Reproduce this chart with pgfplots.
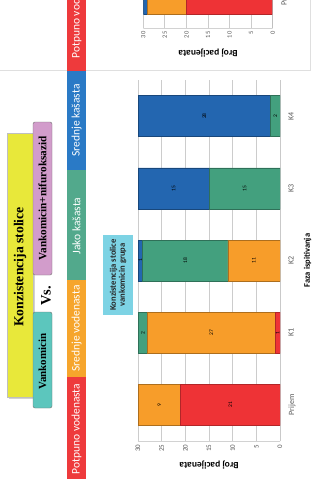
\documentclass[border=0pt]{standalone}
\usepackage{fontspec}
\setmainfont{Carlito}
\newfontfamily\tnr{Liberation Serif}
\usepackage{pgfplots}
\pgfplotsset{compat=1.18}
\definecolor{cred}{HTML}{EE3336}
\definecolor{corange}{HTML}{F79D2A}
\definecolor{cgreen}{HTML}{43A07E}
\definecolor{cblue}{HTML}{2366B0}
\definecolor{sred}{HTML}{EE3A3C}
\definecolor{sorange}{HTML}{F6A52C}
\definecolor{sgreen}{HTML}{52A98C}
\definecolor{sblue}{HTML}{2A7AC6}
\definecolor{cyellow}{HTML}{E8E83A}
\definecolor{cteal}{HTML}{5CC6BD}
\definecolor{cpink}{HTML}{D29CCB}
\definecolor{clblue}{HTML}{7DD3E4}
\definecolor{ctick}{HTML}{595959}
\pgfplotsset{
  barchart/.style={
    scale only axis, xbar stacked, x dir=reverse,
    xmin=0, xmax=30, ymin=-0.5, ymax=4.5,
    xtick={0,5,...,30}, ytick={0,1,2,3,4},
    yticklabels={Prijem,K1,K2,K3,K4},
    yticklabel pos=right, yticklabel shift=5pt,
    major tick length=0, axis line style={draw=none},
    xmajorgrids, grid style={gray!40, line width=0.8pt},
    /pgf/number format/assume math mode=true,
    xticklabel style={rotate=90, anchor=east, text=ctick, font=\fontsize{7}{8}\selectfont},
    yticklabel style={rotate=90, anchor=north, text=ctick, font=\fontsize{8}{9}\selectfont},
    every axis x label/.style={at={(axis description cs:0.5,0)}, yshift=-24.5pt, rotate=180, anchor=center, font=\bfseries\fontsize{9.5}{11}\selectfont},
    every axis y label/.style={at={(axis description cs:1,0.5)}, xshift=27.5pt, rotate=90, anchor=center, font=\bfseries\fontsize{8.5}{10}\selectfont},
  },
}
\begin{document}
\begin{tikzpicture}[x=1pt,y=1pt]
\path[use as bounding box] (0,0) rectangle (311,-479);
\fill[white] (0,0) rectangle (311,-479);
\begin{scope}
\clip (0,0) rectangle (311,-479);
% slide separators
\draw[gray!25, line width=0.8pt] (0,-70.5) -- (311,-70.5);
\draw[gray!25] (310,0) -- (310,-70);
% title boxes
\fill[gray!35] (9,-135) rectangle (35,-399);
\filldraw[fill=cyellow, draw=gray!50] (7,-133) rectangle (33,-397);
\node[rotate=90, font=\tnr\bfseries\fontsize{13.7}{15}\selectfont] at (20,-267) {Konzistencija stolice};
\filldraw[fill=cteal, draw=black!55, rounded corners=2pt] (33,-312) rectangle (52,-408);
\node[rotate=90, font=\tnr\bfseries\fontsize{10.9}{12}\selectfont] at (42.5,-361.5) {Vankomicin};
\filldraw[fill=cpink, draw=black!55, rounded corners=2pt] (33,-122) rectangle (52,-275);
\node[rotate=90, font=\tnr\bfseries\fontsize{11.2}{12}\selectfont] at (42.5,-198.5) {Vankomicin+nifuroksazid};
\node[rotate=90, font=\tnr\bfseries\fontsize{14.5}{15}\selectfont] at (46,-296) {Vs.};
% category strips
\fill[sred] (67,40) rectangle (86,-70.5);
\fill[sblue] (67,-70.5) rectangle (86,-170);
\fill[sgreen] (67,-170) rectangle (86,-280);
\fill[sorange] (67,-280) rectangle (86,-377);
\fill[sred] (67,-377) rectangle (86,-479);
\begin{scope}[every node/.style={rotate=90, text=white, font=\fontsize{11.5}{12}\selectfont}]
\node[anchor=west] at (76.5,-62) {Potpuno vodenasta};
\node at (76.5,-120.5) {Srednje kašasta};
\node at (76.5,-226) {Jako kašasta};
\node at (76.5,-328.5) {Srednje vodenasta};
\node at (76.5,-429) {Potpuno vodenasta};
\end{scope}
% group label
\fill[clblue] (103,-235) rectangle (133,-315);
\node[rotate=90, align=center, text=black!85, font=\bfseries\fontsize{8.6}{9}\selectfont] at (118,-275) {Konzistencija stolice\\vankomicin grupa};

% main chart
\begin{axis}[barchart, at={(138pt,-441pt)}, anchor=south west,
  width=142pt, height=361pt, bar width=41pt,
  xlabel={Broj pacijenata}, ylabel={Faza ispitivanja}]
\draw[gray!55, line width=0.8pt] (axis cs:0,-0.5) -- (axis cs:0,4.5);
\draw[gray!35, line width=0.8pt] (axis cs:0,-0.5) -- (axis cs:30,-0.5);
\addplot[fill=cred, draw=cred!75!black, line width=0.6pt] coordinates {(21,0) (1,1) (0,2) (0,3) (0,4)};
\addplot[fill=corange, draw=corange!70!black, line width=0.6pt] coordinates {(9,0) (27,1) (11,2) (0,3) (0,4)};
\addplot[fill=cgreen, draw=cgreen!70!black, line width=0.6pt] coordinates {(0,0) (2,1) (18,2) (15,3) (2,4)};
\addplot[fill=cblue, draw=cblue!70!black, line width=0.6pt] coordinates {(0,0) (0,1) (1,2) (15,3) (28,4)};
\end{axis}
\begin{axis}[scale only axis, at={(138pt,-441pt)}, anchor=south west,
  width=142pt, height=361pt, hide axis, x dir=reverse,
  xmin=0, xmax=30, ymin=-0.5, ymax=4.5]
\addplot[draw=none, mark=none, nodes near coords, point meta=explicit symbolic,
  nodes near coords align={center},
  every node near coord/.style={rotate=90, anchor=center, text=black, font=\fontsize{5.5}{6}\selectfont}]
  coordinates {(10.5,0) [21] (25.5,0) [9]
               (0.5,1) [1] (14.5,1) [27] (29,1) [2]
               (5.5,2) [11] (20,2) [18] (29.5,2) [1]
               (7.5,3) [15] (22.5,3) [15]
               (1,4) [2] (16,4) [28]};
\end{axis}

% partial chart of the next slide (top)
\begin{axis}[barchart, at={(143.3pt,-28pt)}, anchor=south west,
  width=129.4pt, height=328pt, bar width=37.4pt,
  xlabel={Broj pacijenata},
  xticklabel style={font=\fontsize{6.5}{7}\selectfont},
  every axis x label/.append style={yshift=0.5pt}]
\draw[gray!55, line width=0.8pt] (axis cs:0,-0.5) -- (axis cs:0,4.5);
\draw[gray!35, line width=0.8pt] (axis cs:0,-0.5) -- (axis cs:30,-0.5);
\addplot[fill=cred, draw=cred!75!black, line width=0.6pt] coordinates {(20,0)};
\addplot[fill=corange, draw=corange!70!black, line width=0.6pt] coordinates {(9,0)};
\addplot[fill=cgreen, draw=cgreen!70!black, line width=0.6pt] coordinates {(0,0)};
\addplot[fill=cblue, draw=cblue!70!black, line width=0.6pt] coordinates {(1,0)};
\end{axis}
\end{scope}
\end{tikzpicture}
\end{document}
